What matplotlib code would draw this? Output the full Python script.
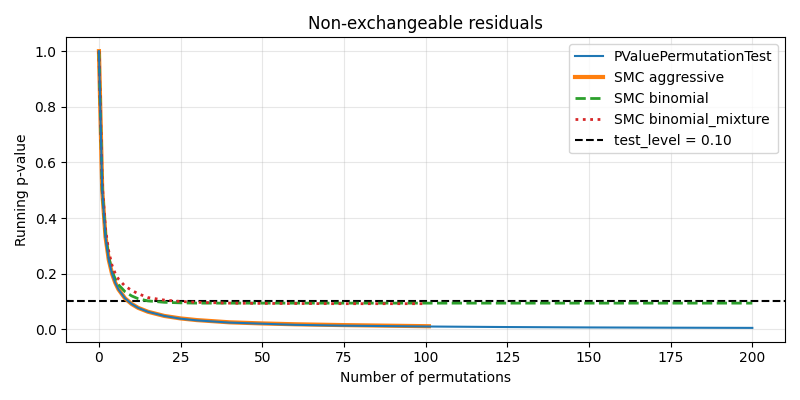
import matplotlib
matplotlib.use("Agg")
from matplotlib import pyplot as plt

# running p-values
perm_x = [0, 1, 2, 3, 4, 5, 6, 8, 10, 12, 15, 20, 25, 30, 40, 50, 60, 75, 100, 125, 150, 175, 200]
perm_y = [1.0, 0.5, 0.333, 0.25, 0.2, 0.167, 0.143, 0.111, 0.091, 0.077, 0.063, 0.048,
          0.038, 0.032, 0.024, 0.020, 0.016, 0.013, 0.010, 0.008, 0.0066, 0.0057, 0.005]

aggr_x = [0, 1, 2, 3, 4, 5, 6, 8, 10, 12, 15, 20, 25, 30, 40, 50, 60, 75, 101]
aggr_y = [1.0, 0.5, 0.333, 0.25, 0.2, 0.167, 0.143, 0.111, 0.091, 0.077, 0.063, 0.048,
          0.039, 0.033, 0.025, 0.021, 0.018, 0.015, 0.011]

binom_x = [0, 1, 2, 3, 4, 5, 6, 8, 10, 12, 15, 20, 25, 30, 40, 50, 100, 150, 200]
binom_y = [1.0, 0.5, 0.34, 0.26, 0.21, 0.18, 0.16, 0.135, 0.12, 0.11, 0.102, 0.097,
           0.095, 0.094, 0.094, 0.094, 0.094, 0.094, 0.094]

mix_x = [0, 1, 2, 3, 4, 5, 6, 8, 10, 12, 15, 20, 25, 30, 40, 50, 75, 100]
mix_y = [1.0, 0.52, 0.36, 0.28, 0.23, 0.2, 0.18, 0.155, 0.14, 0.128, 0.114, 0.105,
         0.1, 0.097, 0.094, 0.093, 0.092, 0.092]

test_level = 0.10

fig, ax = plt.subplots(figsize=(8, 4), dpi=100)
ax.plot(perm_x, perm_y, color='tab:blue', lw=1.5, label='PValuePermutationTest', zorder=4)
ax.plot(aggr_x, aggr_y, color='tab:orange', lw=3, label='SMC aggressive', zorder=3)
ax.plot(binom_x, binom_y, color='tab:green', lw=2, ls='--', label='SMC binomial', zorder=3)
ax.plot(mix_x, mix_y, color='tab:red', lw=2, ls=':', label='SMC binomial_mixture', zorder=3)
ax.axhline(test_level, color='black', lw=1.5, ls='--', label='test_level = %.2f' % test_level)

ax.set_title('Non-exchangeable residuals')
ax.set_xlabel('Number of permutations')
ax.set_ylabel('Running p-value')
ax.grid(alpha=0.3)
ax.legend(loc='upper right')
fig.tight_layout()
fig.savefig('out.png')
